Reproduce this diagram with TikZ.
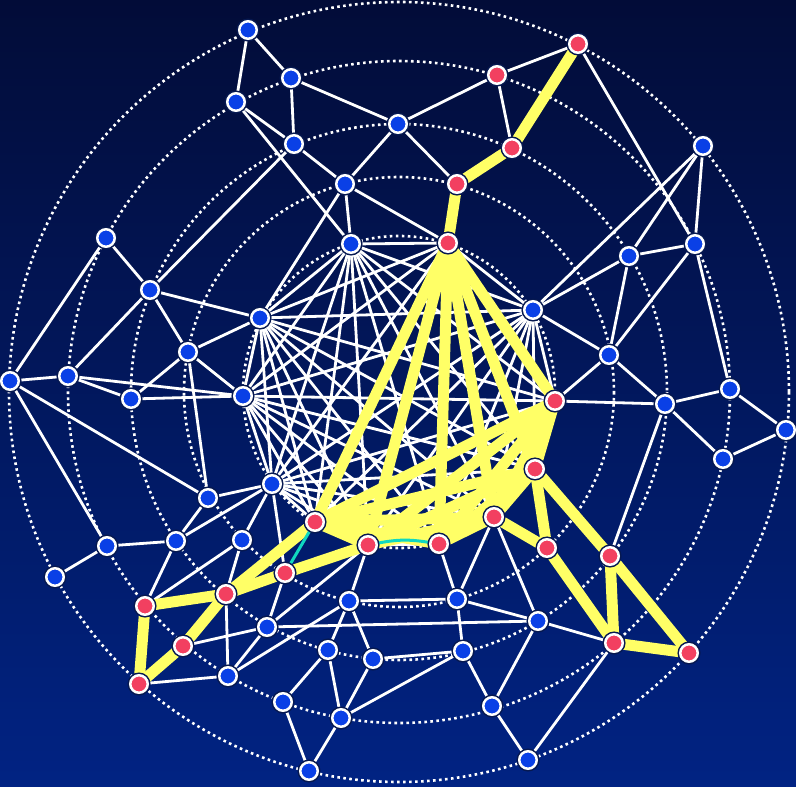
\documentclass[tikz,border=0pt]{standalone}
\usepackage{xcolor}
\definecolor{bgtop}{HTML}{020C38}
\definecolor{bgbottom}{HTML}{012383}
\definecolor{halo}{HTML}{061850}
\definecolor{nodeblue}{HTML}{0A40E6}
\definecolor{nodered}{HTML}{F24060}
\definecolor{pathyellow}{HTML}{FFFF66}
\definecolor{linkteal}{HTML}{10D8C0}
\usepackage{tikz}
\pgfdeclarelayer{back}
\pgfsetlayers{back,main}

\begin{document}
\begin{tikzpicture}[
  x=1pt, y=-1pt,
  vertex/.style={circle, draw=white, line width=2.5pt, minimum size=17.5pt, inner sep=0pt,
    preaction={draw=halo, line width=5.5pt}},
  bnode/.style={vertex, fill=nodeblue},
  rnode/.style={vertex, fill=nodered},
  wire/.style={white, line width=2.8pt},
  hot/.style={pathyellow, line width=11pt},
  tlink/.style={linkteal, line width=3pt},
  ring/.style={white, line width=2.6pt, dash pattern=on 2.6pt off 3.4pt}
]
  \useasboundingbox (0,0) rectangle (796,787);

  % core ring
  \node[bnode] (v11) at (351,244) {};
  \node[rnode] (v12) at (448,243) {};
  \node[bnode] (v16) at (533,310) {};
  \node[rnode] (v18) at (555,401) {};
  \node[rnode] (v23) at (535,469) {};
  \node[rnode] (v24) at (494,517) {};
  \node[rnode] (v34) at (439,544) {};
  \node[rnode] (v35) at (368,545) {};
  \node[rnode] (v36) at (315,522) {};
  \node[bnode] (v37) at (272,484) {};
  \node[bnode] (v38) at (243,396) {};
  \node[bnode] (v39) at (260,318) {};

  % top
  \node[bnode] (v1) at (248,30) {};
  \node[bnode] (v2) at (291,78) {};
  \node[bnode] (v3) at (236,102) {};
  \node[bnode] (v4) at (294,144) {};
  \node[bnode] (v5) at (398,124) {};
  \node[bnode] (v6) at (345,184) {};
  \node[rnode] (v7) at (497,75) {};
  \node[rnode] (v8) at (578,44) {};
  \node[rnode] (v9) at (512,148) {};
  \node[rnode] (v10) at (457,184) {};

  % right
  \node[bnode] (v13) at (703,146) {};
  \node[bnode] (v14) at (695,244) {};
  \node[bnode] (v15) at (629,256) {};
  \node[bnode] (v17) at (609,355) {};
  \node[bnode] (v19) at (665,404) {};
  \node[bnode] (v20) at (730,389) {};
  \node[bnode] (v21) at (786,430) {};
  \node[bnode] (v22) at (723,459) {};

  % bottom right
  \node[rnode] (v25) at (547,548) {};
  \node[rnode] (v26) at (610,556) {};
  \node[rnode] (v27) at (614,643) {};
  \node[rnode] (v28) at (689,653) {};
  \node[bnode] (v29) at (538,621) {};
  \node[bnode] (v30) at (457,599) {};
  \node[bnode] (v31) at (463,651) {};
  \node[bnode] (v32) at (492,706) {};
  \node[bnode] (v33) at (528,760) {};

  % bottom left
  \node[bnode] (v40) at (349,601) {};
  \node[bnode] (v41) at (373,659) {};
  \node[bnode] (v42) at (328,650) {};
  \node[bnode] (v43) at (341,718) {};
  \node[bnode] (v44) at (283,702) {};
  \node[bnode] (v45) at (309,771) {};
  \node[rnode] (v46) at (285,573) {};
  \node[bnode] (v47) at (267,627) {};
  \node[bnode] (v48) at (228,676) {};
  \node[rnode] (v49) at (183,646) {};
  \node[rnode] (v50) at (226,594) {};
  \node[rnode] (v51) at (145,606) {};
  \node[rnode] (v52) at (139,684) {};
  \node[bnode] (v53) at (242,540) {};
  \node[bnode] (v54) at (176,541) {};
  \node[bnode] (v55) at (107,546) {};
  \node[bnode] (v56) at (55,577) {};

  % left
  \node[bnode] (v57) at (208,498) {};
  \node[bnode] (v58) at (131,399) {};
  \node[bnode] (v59) at (68,376) {};
  \node[bnode] (v60) at (10,381) {};
  \node[bnode] (v61) at (188,352) {};
  \node[bnode] (v62) at (150,290) {};
  \node[bnode] (v63) at (106,238) {};

  \begin{pgfonlayer}{back}
    \shade[top color=bgtop, bottom color=bgbottom] (0,0) rectangle (796,787);
    \foreach \r in {156,215,268,331,390}
      \draw[ring] (399,392) circle (\r);

    % links between rings
    \foreach \a/\b in {1/2,1/3,2/4,2/5,3/4,3/11,4/6,4/62,5/6,5/7,5/10,6/11,6/12,6/39,7/8,7/9,8/14,
        13/14,13/15,13/16,14/15,14/17,14/20,15/16,15/17,16/17,17/18,17/19,18/19,19/20,19/22,19/26,20/21,21/22,
        24/29,24/30,34/30,29/30,30/31,30/40,27/29,29/32,29/47,31/32,31/41,31/43,32/33,27/33,
        60/63,62/63,39/62,61/62,59/62,39/61,58/61,38/61,57/61,59/60,38/59,58/59,38/58,57/60,55/60,
        37/57,54/57,37/54,37/53,37/46,54/55,51/54,51/53,50/53,55/56,48/52,47/49,48/50,46/47,35/47,
        47/48,40/48,35/40,40/42,40/41,42/44,42/43,41/43,43/45,44/45}
      \draw[wire] (v\a) -- (v\b);

    % the core is a clique
    \foreach \a [count=\i] in {11,12,16,18,23,24,34,35,36,37,38,39}
      \foreach \b [count=\j] in {11,12,16,18,23,24,34,35,36,37,38,39}
        {\ifnum\j>\i \draw[wire] (v\a) -- (v\b); \fi}

    % highlighted links
    \foreach \a/\b in {12/18,12/23,12/24,12/34,12/35,12/36,18/23,18/24,18/34,18/35,18/36,
        23/24,23/34,23/35,23/36,24/34,24/35,24/36,34/36,35/36,
        8/9,9/10,10/12,23/25,23/26,24/25,25/27,26/27,26/28,27/28,
        36/50,35/46,46/50,50/51,51/52,49/52,49/50}
      \draw[hot] (v\a) -- (v\b);

    \draw[tlink] (v36) -- (v46);
    \draw[tlink] (v35) to[bend left=10] (v34);
  \end{pgfonlayer}
\end{tikzpicture}
\end{document}
